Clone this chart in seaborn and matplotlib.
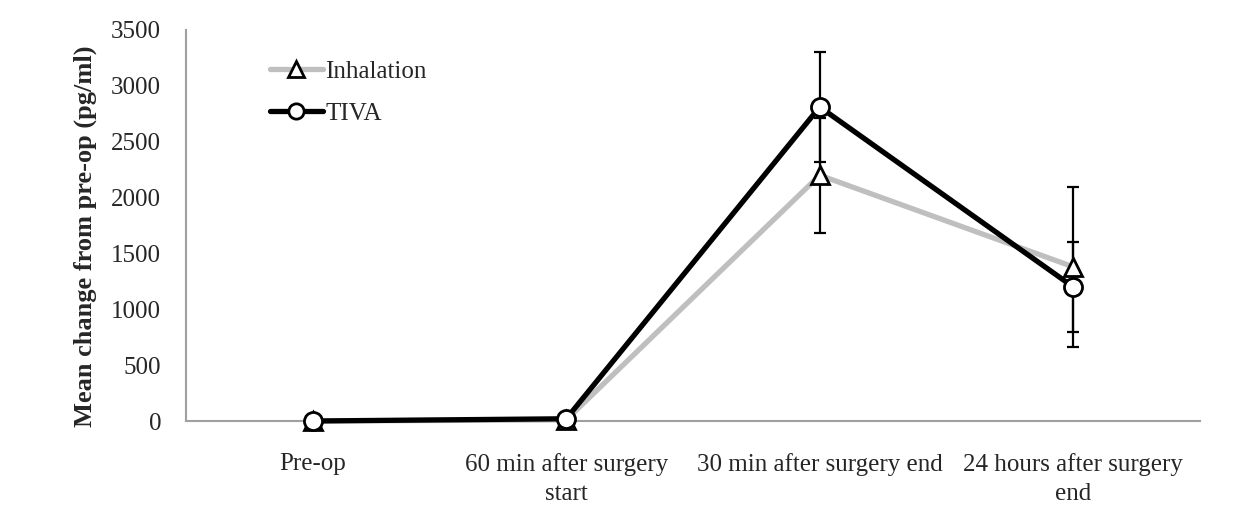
import matplotlib
matplotlib.use("Agg")
import matplotlib.pyplot as plt
import seaborn as sns
import pandas as pd
import numpy as np
from matplotlib.lines import Line2D

categories = ["Pre-op", "60 min after surgery\nstart", "30 min after surgery end", "24 hours after surgery\nend"]
inhalation = [0, 10, 2200, 1380]
inhalation_err = [0, 0, 515, 715]
tiva = [0, 20, 2811, 1200]
tiva_err = [0, 0, 490, 400]
yticks = [0, 500, 1000, 1500, 2000, 2500, 3000, 3500]

sns.set_theme(style="white")
plt.rcParams['font.family'] = ['Liberation Serif', 'DejaVu Serif']

fig = plt.figure(figsize=(12.48, 5.19), dpi=100)
ax = fig.add_axes([186/1248, 1-421/519, (1200-186)/1248, (421-30)/519])

x = np.arange(len(categories))
df = pd.DataFrame({
    "x": np.concatenate([x, x]),
    "value": inhalation + tiva,
    "group": ["Inhalation"] * 4 + ["TIVA"] * 4,
})

for vals, errs in [(inhalation, inhalation_err), (tiva, tiva_err)]:
    ax.errorbar(x, vals, yerr=errs, fmt="none", ecolor="black",
                elinewidth=1.6, capsize=4.2, capthick=1.6, zorder=1)

sns.lineplot(data=df, x="x", y="value", hue="group", style="group",
             palette={"Inhalation": "#bfbfbf", "TIVA": "black"},
             markers={"Inhalation": "^", "TIVA": "o"}, dashes=False,
             linewidth=3.8, markersize=13, markerfacecolor="white",
             markeredgecolor="black", markeredgewidth=2, ax=ax, legend=False)

for l in ax.lines:
    if l.get_marker() in ("^", "o"):
        l.set_zorder(3)
        l.set_clip_on(False)

handles = [
    Line2D([], [], color="#bfbfbf", lw=3.8, marker="^", markersize=11,
           markerfacecolor="white", markeredgecolor="black", markeredgewidth=2),
    Line2D([], [], color="black", lw=3.8, marker="o", markersize=11,
           markerfacecolor="white", markeredgecolor="black", markeredgewidth=2),
]
ax.legend(handles, ["Inhalation", "TIVA"], loc="upper left",
          bbox_to_anchor=((270-186)/1014, 1-(60-30)/391),
          frameon=False, fontsize=18, handlelength=2.1, handletextpad=0.1,
          labelspacing=0.78, borderpad=0, borderaxespad=0)

ax.set_xlim(-0.5, 3.5)
ax.set_ylim(0, 3500)
ax.set_yticks(yticks)
ax.set_yticklabels([str(v) for v in yticks], fontsize=18)
ax.set_xticks([-0.5, 0.5, 1.5, 2.5, 3.5])
ax.set_xticklabels([])
ax.set_xticks(x, minor=True)
ax.set_xticklabels(categories, minor=True, fontsize=18, linespacing=1.4)
ax.tick_params(axis="x", which="minor", length=0, pad=23)
ax.tick_params(axis="x", which="major", length=6, width=1.2, color="#a0a0a0", direction="out")
ax.tick_params(axis="y", length=6, width=1.2, color="#a0a0a0", direction="out", pad=12)
ax.set_xlabel("")
ax.set_ylabel("Mean change from pre-op (pg/ml)", fontsize=19, fontweight="bold")
ax.yaxis.set_label_coords((97-186)/1014, 1-(236-30)/391)

for s in ["top", "right"]:
    ax.spines[s].set_visible(False)
for s in ["left", "bottom"]:
    ax.spines[s].set_color("#a0a0a0")
    ax.spines[s].set_linewidth(1.5)

fig.savefig("out.png", dpi=100)
